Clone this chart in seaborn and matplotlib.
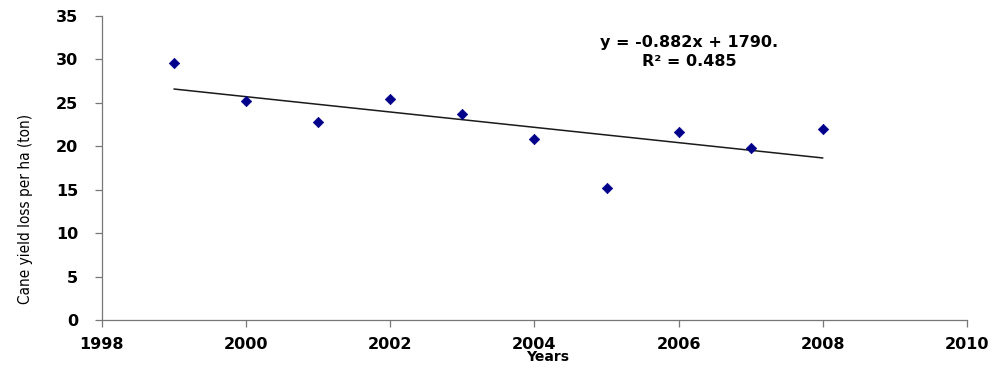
import numpy as np
import pandas as pd
import matplotlib
matplotlib.use('Agg')
import matplotlib.pyplot as plt
from matplotlib import font_manager
import seaborn as sns

# values
years = [1999, 2000, 2001, 2002, 2003, 2004, 2005, 2006, 2007, 2008]
loss = [29.6, 25.25, 22.75, 25.45, 23.7, 20.8, 15.2, 21.7, 19.85, 21.95]
x_ticks = [1998, 2000, 2002, 2004, 2006, 2008, 2010]
y_ticks = [0, 5, 10, 15, 20, 25, 30, 35]
equation = "y = -0.882x + 1790."
r_squared = "R² = 0.485"

df = pd.DataFrame({'Years': years, 'Loss': loss})

sns.set_style('white')
plt.rcParams['font.family'] = ['DejaVu Sans']
plt.rcParams['text.color'] = 'black'

# narrow face for the y label, if one is around
names = {f.name for f in font_manager.fontManager.ttflist}
narrow = [n for n in ['Liberation Sans Narrow', 'Arial Narrow'] if n in names]

fig = plt.figure(figsize=(9.99, 3.68), dpi=100)
ax = fig.add_axes([0.102, 0.1304, 0.866, 0.8261])

sns.regplot(data=df, x='Years', y='Loss', ci=None, scatter=False,
            line_kws={'color': '#1a1a1a', 'lw': 1.1}, ax=ax)
sns.scatterplot(data=df, x='Years', y='Loss', marker='D', s=28, color='#00008B',
                edgecolor='#00008B', linewidth=0.5, ax=ax, zorder=3)

ax.set_xlim(1998, 2010)
ax.set_ylim(0, 35)
ax.set_xticks(x_ticks)
ax.set_yticks(y_ticks)
ax.set_xticklabels([str(t) for t in x_ticks], fontsize=11.5, fontweight='bold', color='black')
ax.set_yticklabels([str(t) for t in y_ticks], fontsize=11.5, fontweight='bold', color='black')
ax.tick_params(axis='both', direction='out', length=5, width=0.9, color='#777777',
               bottom=True, left=True)
ax.tick_params(axis='y', pad=12)
ax.tick_params(axis='x', pad=7)

for side in ['top', 'right']:
    ax.spines[side].set_visible(False)
for side in ['left', 'bottom']:
    ax.spines[side].set_color('#777777')
    ax.spines[side].set_linewidth(0.9)

ax.set_xlabel('Years', fontsize=10, fontweight='bold', color='black')
ax.xaxis.set_label_coords(0.515, -0.1)
if narrow:
    ax.set_ylabel('Cane yield loss per ha (ton)', fontsize=11, family=narrow[0], color='black')
else:
    ax.set_ylabel('Cane yield loss per ha (ton)', fontsize=11, family='DejaVu Sans',
                  fontstretch='condensed', color='black')
ax.yaxis.set_label_coords(-0.08, 0.365)

ax.text(2006.15, 32.0, equation, ha='center', va='center', fontsize=11.5, fontweight='bold')
ax.text(2006.15, 29.8, r_squared, ha='center', va='center', fontsize=11.5, fontweight='bold')

fig.savefig('out.png', dpi=100)
